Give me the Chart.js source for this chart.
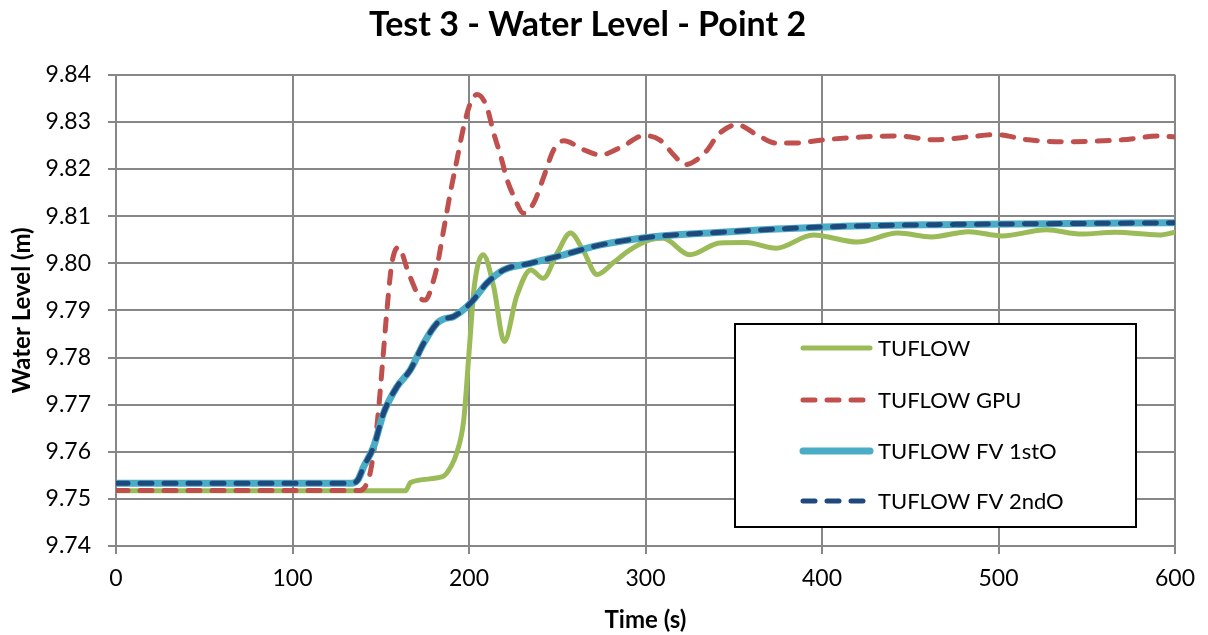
<!DOCTYPE html>
<html lang="en">
<head>
<meta charset="UTF-8">
<title>Test 3 - Water Level - Point 2</title>
<script src="https://cdn.jsdelivr.net/npm/chart.js"></script>
<style>
  html, body { margin: 0; padding: 0; background: #fff; overflow: hidden; }
  #wrap { width: 1208px; height: 635px; }
</style>
</head>
<body>
<div id="wrap"><canvas id="chart"></canvas></div>
<script>
  // values
  const tufTime  = [0, 164, 167, 185, 190, 193, 197, 200, 203, 208, 214, 220, 227, 235, 242, 250, 257.5, 265, 272.5, 282, 291, 303, 310, 325, 342, 357, 374, 395, 420, 443, 462, 483, 502, 527, 547, 566, 591, 600];
  const tufLevel = [9.7517, 9.7517, 9.7535, 9.7547, 9.7570, 9.7597, 9.7667, 9.7810, 9.7951, 9.8018, 9.7950, 9.7834, 9.7930, 9.7986, 9.7968, 9.8022, 9.8064, 9.8025, 9.7976, 9.8002, 9.8028, 9.8050, 9.8053, 9.8018, 9.8043, 9.8044, 9.8032, 9.8060, 9.8045, 9.8064, 9.8056, 9.8067, 9.8058, 9.8071, 9.8062, 9.8066, 9.8060, 9.8066];

  const gpuTime  = [0, 138, 141, 144, 147.8, 150.7, 153.5, 156.3, 160, 165.8, 172.4, 175.3, 180, 182, 185.6, 189.4, 193.2, 197, 200.8, 204.5, 210, 214, 218, 221.6, 225.4, 231, 236.7, 242.4, 248, 253.7, 265, 274.5, 287, 299, 308, 316.7, 322, 333.5, 342, 352, 363, 374, 384, 401, 422, 443, 464, 485, 498, 517, 536, 570, 591, 600];
  const gpuLevel = [9.7518, 9.7518, 9.7525, 9.7555, 9.7653, 9.7774, 9.7900, 9.8000, 9.8034, 9.7979, 9.7926, 9.7922, 9.7965, 9.7995, 9.8070, 9.8149, 9.8220, 9.8290, 9.8340, 9.8358, 9.8333, 9.8276, 9.8227, 9.8177, 9.8142, 9.8106, 9.8128, 9.8184, 9.8241, 9.8260, 9.8241, 9.8230, 9.8248, 9.8271, 9.8262, 9.8227, 9.8209, 9.8234, 9.8276, 9.8294, 9.8273, 9.8255, 9.8255, 9.8262, 9.8268, 9.8270, 9.8262, 9.8269, 9.8273, 9.8262, 9.8258, 9.8262, 9.8270, 9.8268];

  const fv1Time  = [0, 133, 137, 140.3, 146, 151.6, 159.2, 166.8, 174.3, 181.9, 186, 191.3, 200.8, 210.2, 219.7, 234.8, 253.7, 274.5, 306, 338, 401, 464, 527, 600];
  const fv1Level = [9.7533, 9.7533, 9.7540, 9.7568, 9.7611, 9.7682, 9.7738, 9.7774, 9.7830, 9.7873, 9.7882, 9.7887, 9.7915, 9.7958, 9.7986, 9.8000, 9.8018, 9.8039, 9.8057, 9.8065, 9.8077, 9.8082, 9.8084, 9.8086];

  const fv2Time  = [0, 133, 137, 140.3, 146, 151.6, 159.2, 166.8, 174.3, 181.9, 186, 191.3, 200.8, 210.2, 219.7, 234.8, 253.7, 274.5, 306, 338, 401, 464, 527, 600];
  const fv2Level = [9.7533, 9.7533, 9.7540, 9.7568, 9.7611, 9.7682, 9.7738, 9.7774, 9.7830, 9.7873, 9.7882, 9.7887, 9.7915, 9.7958, 9.7986, 9.8000, 9.8018, 9.8039, 9.8057, 9.8065, 9.8077, 9.8082, 9.8084, 9.8086];

  const seriesNames = ['TUFLOW', 'TUFLOW GPU', 'TUFLOW FV 1stO', 'TUFLOW FV 2ndO'];
  const xTicks = [0, 100, 200, 300, 400, 500, 600];
  const yTicks = [9.74, 9.75, 9.76, 9.77, 9.78, 9.79, 9.80, 9.81, 9.82, 9.83, 9.84];

  const FONT = 'Lato, "Open Sans", sans-serif';
  const pts = (xs, ys) => xs.map((x, i) => ({ x: x, y: ys[i] }));

  // legend box drawn inside the plot, like the Excel one
  const boxLegend = {
    id: 'boxLegend',
    afterDraw(chart) {
      const c = chart.ctx;
      const left = 735, top = 324, w = 401, h = 203;
      const rows = [348, 400, 451, 501];
      c.save();
      c.fillStyle = '#fff';
      c.fillRect(left, top, w, h);
      c.lineWidth = 2;
      c.strokeStyle = '#000';
      c.strokeRect(left, top, w, h);
      chart.data.datasets.forEach((ds, i) => {
        const y = rows[i];
        c.beginPath();
        c.strokeStyle = ds.borderColor;
        c.lineWidth = ds.borderWidth;
        c.lineCap = 'round';
        c.setLineDash(ds.borderDash || []);
        c.moveTo(803, y);
        c.lineTo(870, y);
        c.stroke();
        c.setLineDash([]);
        c.fillStyle = '#000';
        c.font = '22px ' + FONT;
        c.textBaseline = 'middle';
        c.textAlign = 'left';
        c.fillText(ds.label, 878, y + 1);
      });
      c.restore();
    }
  };

  const line = (label, xs, ys, color, width, dash, order) => ({
    label: label,
    data: pts(xs, ys),
    borderColor: color,
    backgroundColor: color,
    borderWidth: width,
    borderDash: dash,
    borderCapStyle: 'round',
    pointRadius: 0,
    cubicInterpolationMode: 'monotone',
    fill: false,
    order: order,
  });

  new Chart(document.getElementById('chart'), {
    type: 'line',
    data: {
      datasets: [
        line(seriesNames[0], tufTime, tufLevel, '#9BBB59', 5, [], 4),
        line(seriesNames[1], gpuTime, gpuLevel, '#C0504D', 5, [12, 12], 3),
        line(seriesNames[2], fv1Time, fv1Level, '#4BACC6', 7, [], 2),
        line(seriesNames[3], fv2Time, fv2Level, '#1F497D', 5, [12, 12], 1),
      ]
    },
    options: {
      responsive: true,
      maintainAspectRatio: false,
      animation: false,
      layout: { padding: { left: 0, right: 33, top: 0, bottom: 0 } },
      scales: {
        x: {
          type: 'linear',
          min: xTicks[0],
          max: xTicks[xTicks.length - 1],
          afterBuildTicks: s => { s.ticks = xTicks.map(v => ({ value: v })); },
          afterFit: s => { s.height = 89; },
          grid: { color: '#878787', lineWidth: 2, tickLength: 8 },
          border: { color: '#878787', width: 2 },
          ticks: { color: '#000', font: { family: FONT, size: 23 }, padding: 11 },
          title: { display: true, text: 'Time (s)', color: '#000', font: { family: FONT, size: 24, weight: 'bold' }, padding: { top: 1, bottom: 0 } }
        },
        y: {
          min: yTicks[0],
          max: yTicks[yTicks.length - 1],
          afterBuildTicks: s => { s.ticks = yTicks.map(v => ({ value: v })); },
          afterFit: s => { s.width = 116; },
          grid: { color: '#878787', lineWidth: 2, tickLength: 8 },
          border: { color: '#878787', width: 2 },
          ticks: { color: '#000', font: { family: FONT, size: 23 }, padding: 17, callback: v => v.toFixed(2) },
          title: { display: true, text: 'Water Level (m)', color: '#000', font: { family: FONT, size: 24, weight: 'bold' }, padding: { top: 8, bottom: 0 } }
        }
      },
      plugins: {
        legend: { display: false },
        tooltip: { enabled: false },
        title: {
          display: true,
          text: 'Test 3 - Water Level - Point 2',
          color: '#000',
          font: { family: FONT, size: 34, weight: 'bold' },
          padding: { top: 5, bottom: 29 }
        }
      }
    },
    plugins: [boxLegend]
  });
</script>
</body>
</html>
